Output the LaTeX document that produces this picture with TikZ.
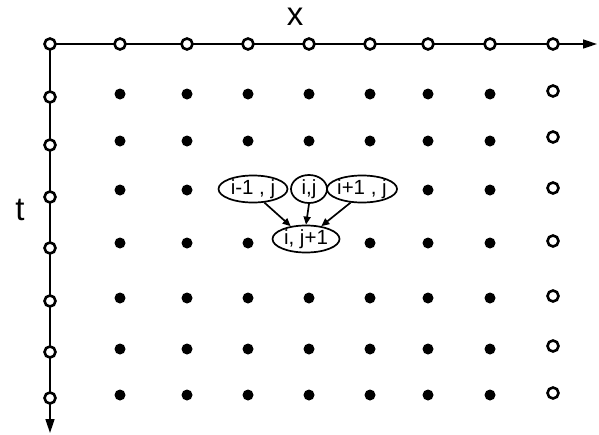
\documentclass[tikz,border=0pt]{standalone}
\usepackage{fontspec}
\setmainfont{Liberation Sans}
\usetikzlibrary{arrows.meta,shapes.geometric}
\begin{document}
\begin{tikzpicture}[x=1pt,y=-1pt,
 opendot/.style={circle,draw,line width=2.6pt,fill=white,minimum size=11pt,inner sep=0},
 filldot/.style={circle,fill,minimum size=11pt,inner sep=0},
 lab/.style={ellipse,draw,line width=1.7pt,inner sep=0,fill=white,font=\fontsize{20.5}{20.5}\selectfont},
 axis/.style={line width=1.7pt,-{Triangle[length=14pt,width=9pt]}},
 con/.style={line width=1.7pt,-{Triangle[length=8pt,width=7pt]}}]
\useasboundingbox (0,0) rectangle (599,434);
\coordinate (O) at (50,44);
\coordinate (xend) at (597,44);
\coordinate (tend) at (50,433);
\draw[axis] (O) -- (xend);
\draw[axis] (O) -- (tend);
\node[font=\fontsize{33}{33}\selectfont] (xl) at (295,17) {x};
\node[font=\fontsize{33}{33}\selectfont] (tl) at (20,210) {t};
% top row
\foreach \c/\x in {0/50,1/120,2/187,3/248,4/309,5/370,6/428,7/490,8/553}
  \node[opendot] (o-\c-0) at (\x,44) {};
% left and right columns
\foreach \r/\y in {1/97,2/145,3/197,4/248,5/301,6/352,7/398}{
  \node[opendot] (o-0-\r) at (50,\y) {};
}
\foreach \r/\y in {1/91,2/137,3/188,4/241,5/296,6/346,7/393}{
  \node[opendot] (o-8-\r) at (553,\y) {};
}
% interior filled dots
\foreach \c/\x in {1/120,2/187,3/248,4/309,5/370,6/428,7/490}{
  \foreach \r/\y in {1/94,2/141,3/190,4/243,5/298,6/349,7/395}{
    \pgfmathtruncatemacro\skipit{((\r==3) && (\c>=3) && (\c<=5)) || ((\r==4) && (\c==4))}
    \ifnum\skipit=0 \node[filldot] (f-\c-\r) at (\x,\y) {};\fi
  }
}
\node[lab,minimum width=69pt,minimum height=26pt] (a) at (253,189) {i-1 , j};
\node[lab,minimum width=36pt,minimum height=28pt] (b) at (309,189) {i,j};
\node[lab,minimum width=69pt,minimum height=26pt] (c) at (362,189) {i+1 , j};
\node[lab,minimum width=67pt,minimum height=22pt] (d) at (306,239) {i, j+1};
\draw[con] (a.-50) -- (d.140);
\draw[con] (b.south) -- (d.north);
\draw[con] (c.-130) -- (d.40);
\end{tikzpicture}
\end{document}
